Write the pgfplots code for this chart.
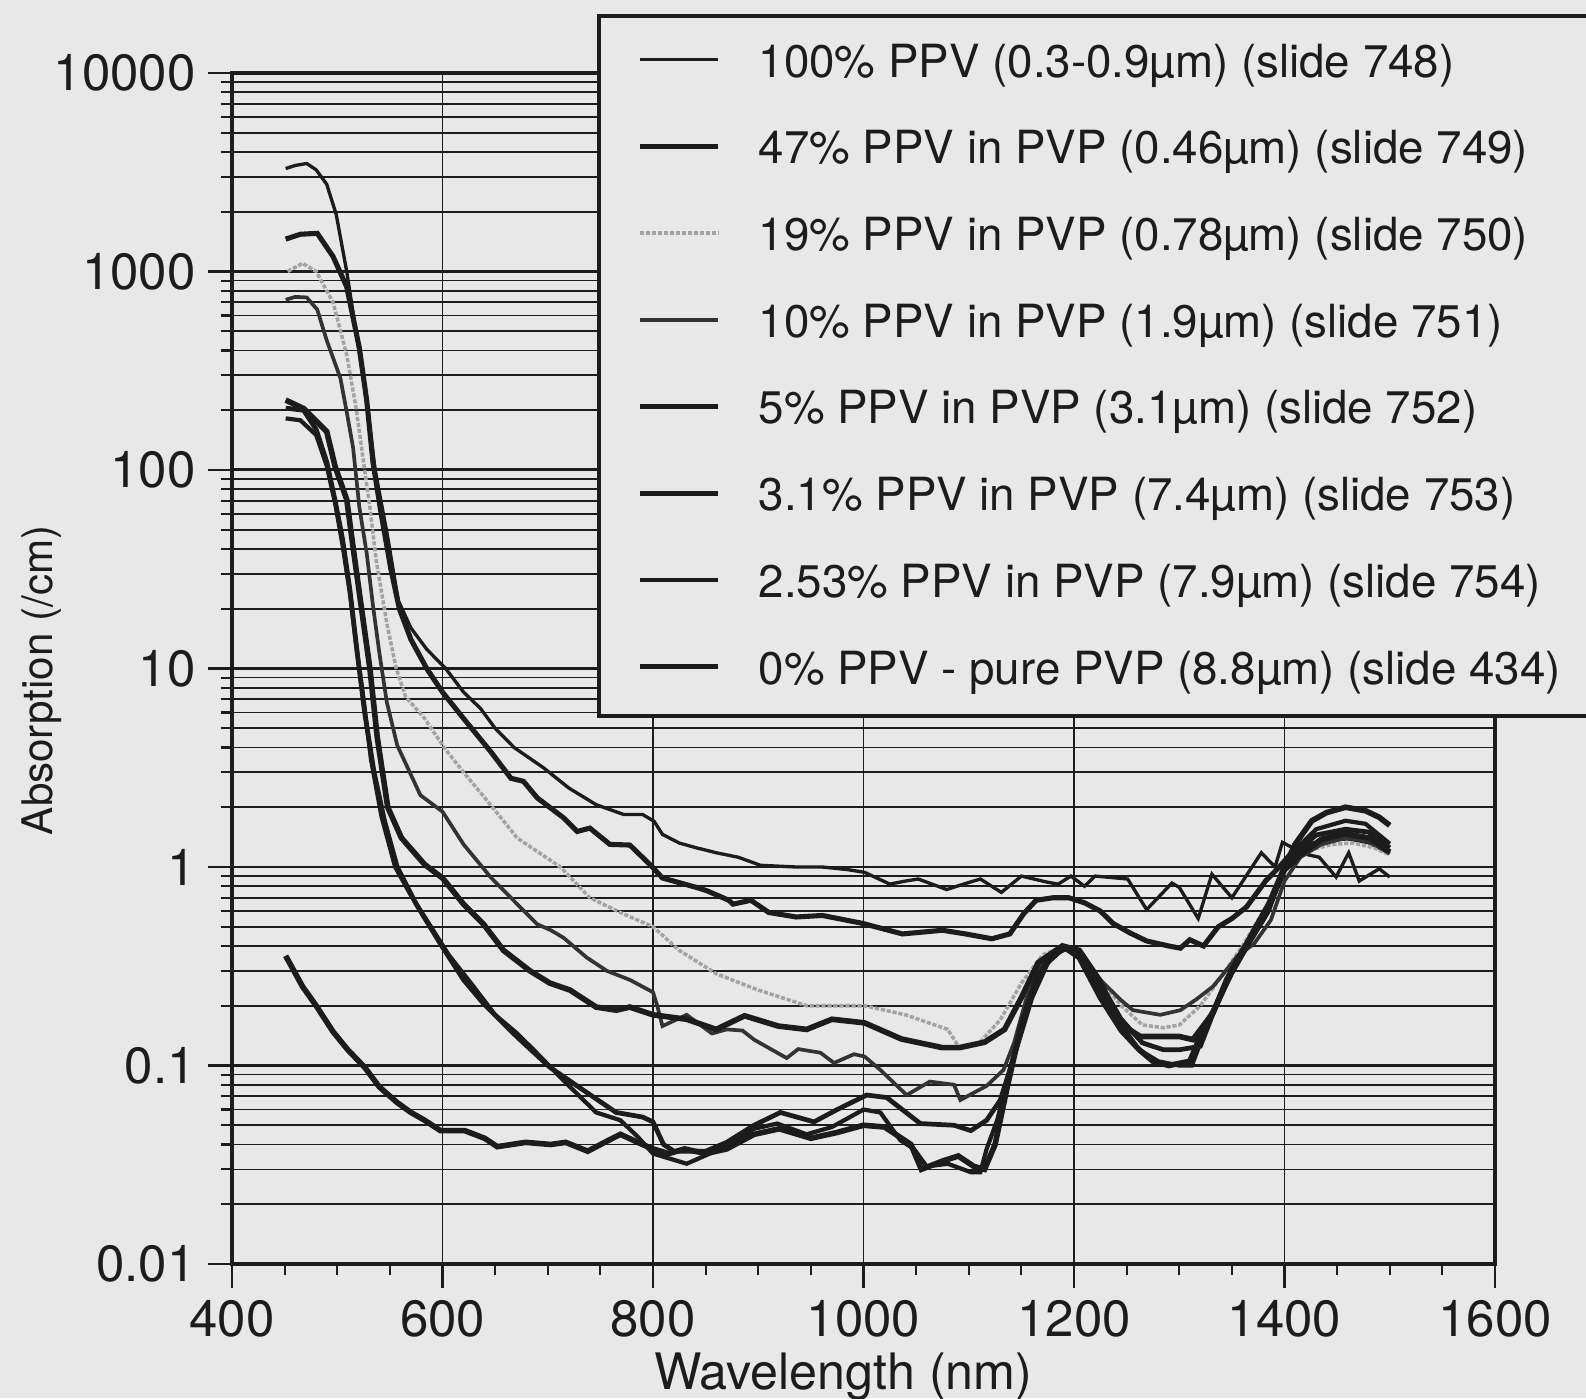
\documentclass[border=0pt]{standalone}
\usepackage{fontspec}
\setmainfont{TeX Gyre Heros}
\usepackage{pgfplots}
\pgfplotsset{compat=1.18}
\definecolor{paper}{RGB}{232,232,232}
\definecolor{ink}{RGB}{28,28,28}
\begin{document}
\begin{tikzpicture}
\fill[paper] (-2.32,-1.34) rectangle (13.54,12.64);
\begin{axis}[
  at={(0,0)}, anchor=south west,
  scale only axis, width=12.63cm, height=11.91cm,
  xmin=400, xmax=1600, ymode=log, ymin=0.01, ymax=10000,
  xtick={400,600,800,1000,1200,1400,1600},
  xticklabels={400,600,800,1000,1200,1400,1600},
  minor x tick num=3,
  ytick={0.01,0.1,1,10,100,1000,10000},
  yticklabels={0.01,0.1,1,10,100,1000,10000},
  /pgf/number format/assume math mode=true,
  tick align=outside, tick pos=left,
  major tick length=0.24cm, minor tick length=0.11cm,
  tick style={ink, line width=0.6pt},
  xmajorgrids, ymajorgrids, yminorgrids,
  major grid style={ink, line width=0.85pt},
  minor grid style={ink, line width=0.45pt},
  major x grid style={ink, line width=0.5pt},
  axis line style={ink, line width=1.2pt},
  ticklabel style={font=\fontsize{14.5}{17}\selectfont, text=ink},
  xlabel={Wavelength (nm)}, ylabel={Absorption (/cm)},
  xlabel style={font=\fontsize{14.3}{17}\selectfont, text=ink, at={(axis description cs:0.484,-0.105)}, anchor=base},
  ylabel style={font=\fontsize{12}{14}\selectfont, text=ink, at={(axis description cs:-0.151,0.49)}, anchor=center},
  legend cell align=left,
  legend style={at={(0.289,1.0495)}, anchor=north west, draw=ink, line width=1.2pt, fill=paper,
    font=\fontsize{13}{15}\selectfont, text=ink, inner xsep=0.38cm, inner ysep=0.19cm,
    row sep=0.317cm, column sep=0.38cm,
    nodes={inner sep=0pt, text height=0.42cm, text depth=0.13cm}},
  legend image code/.code={\draw[#1] (0cm,0.03cm) -- (0.78cm,0.03cm);},
]
% 100% PPV
\addplot[ink, line width=0.95pt] coordinates {(451,3300)(460,3420)(471,3500)(480,3250)(490,2750)(499,1940)(509,1000)(518,490)(528,222)(536,100)(547,49)(558,22)(570,16)(585,12.5)(603,10)(620,7.6)(636,6.3)(650,5.0)(668,4.0)(696,3.16)(720,2.5)(746,2.06)(772,1.84)(790,1.84)(801,1.7)(809,1.46)(825,1.32)(841,1.25)(860,1.18)(881,1.12)(902,1.02)(936,1.0)(961,1.0)(985,0.97)(1001,0.94)(1025,0.82)(1040,0.85)(1052,0.87)(1079,0.77)(1095,0.82)(1111,0.87)(1131,0.745)(1150,0.9)(1174,0.84)(1185,0.82)(1197,0.9)(1210,0.8)(1220,0.9)(1251,0.87)(1269,0.61)(1293,0.83)(1300,0.79)(1318,0.55)(1331,0.92)(1350,0.7)(1378,1.18)(1391,1.0)(1398,1.33)(1420,1.16)(1433,1.12)(1449,0.89)(1461,1.18)(1471,0.85)(1490,0.98)(1500,0.89)};
\addlegendentry{100\% PPV (0.3-0.9µm) (slide 748)}
% 47%
\addplot[ink, line width=1.45pt] coordinates {(451,1456)(465,1540)(481,1557)(496,1190)(509,837)(515,587)(521,412)(528,224)(534,109)(542,59)(551,31.6)(559,20)(570,14)(585,10)(600,7.6)(620,5.6)(646,3.8)(665,2.8)(677,2.7)(690,2.23)(715,1.77)(728,1.51)(740,1.57)(759,1.3)(778,1.29)(797,1.03)(809,0.88)(841,0.79)(851,0.76)(872,0.68)(876,0.65)(893,0.68)(910,0.59)(936,0.56)(961,0.57)(999,0.52)(1037,0.46)(1075,0.48)(1097,0.46)(1122,0.435)(1139,0.46)(1152,0.58)(1164,0.68)(1180,0.7)(1195,0.7)(1210,0.66)(1225,0.6)(1237,0.52)(1253,0.466)(1269,0.424)(1290,0.40)(1301,0.39)(1310,0.43)(1323,0.40)(1337,0.5)(1350,0.55)(1364,0.63)(1382,0.85)(1395,1.0)(1405,1.15)(1425,1.3)(1445,1.38)(1460,1.4)(1480,1.34)(1500,1.18)};
\addlegendentry{47\% PPV in PVP (0.46µm) (slide 749)}
% 19%
\addplot[black!36, line width=1.0pt, dash pattern=on 1.2pt off 0.5pt] coordinates {(453,1000)(467,1100)(480,1000)(496,700)(509,380)(518,204)(525,109)(531,65)(537,35)(547,17)(556,10)(565,7.2)(583,5.6)(602,3.97)(620,3.0)(643,2.14)(671,1.40)(712,1.0)(740,0.70)(772,0.58)(800,0.50)(825,0.38)(860,0.29)(900,0.24)(946,0.20)(1001,0.20)(1040,0.18)(1080,0.152)(1091,0.123)(1110,0.13)(1130,0.17)(1150,0.26)(1170,0.36)(1190,0.40)(1205,0.38)(1225,0.27)(1245,0.2)(1265,0.16)(1285,0.155)(1300,0.16)(1320,0.2)(1340,0.28)(1360,0.4)(1380,0.6)(1400,0.95)(1420,1.2)(1445,1.3)(1465,1.32)(1485,1.25)(1500,1.15)};
\addlegendentry{19\% PPV in PVP (0.78µm) (slide 750)}
% 10%
\addplot[black!80, line width=1.05pt] coordinates {(451,720)(460,745)(471,740)(481,643)(490,450)(503,290)(509,196)(515,130)(521,65)(528,38)(534,20.6)(540,12)(547,6.8)(557,4.1)(579,2.3)(600,1.9)(620,1.3)(646,0.885)(671,0.65)(690,0.515)(703,0.48)(715,0.44)(737,0.35)(756,0.30)(778,0.27)(800,0.234)(804,0.2)(809,0.158)(832,0.18)(856,0.145)(870,0.152)(885,0.15)(896,0.135)(927,0.109)(938,0.121)(959,0.116)(972,0.103)(991,0.114)(1001,0.111)(1016,0.095)(1041,0.071)(1063,0.083)(1086,0.08)(1092,0.067)(1117,0.079)(1133,0.095)(1143,0.13)(1155,0.22)(1170,0.33)(1190,0.39)(1205,0.37)(1225,0.27)(1244,0.215)(1256,0.19)(1282,0.18)(1301,0.19)(1316,0.215)(1332,0.25)(1342,0.29)(1355,0.355)(1371,0.41)(1387,0.54)(1400,0.85)(1415,1.12)(1435,1.3)(1458,1.4)(1480,1.35)(1500,1.17)};
\addlegendentry{10\% PPV in PVP (1.9µm) (slide 751)}
% 5%
\addplot[ink, line width=1.6pt] coordinates {(451,225)(468,204)(490,156)(498,104)(509,71)(515,41)(522,22)(531,10)(538,4.5)(548,2.0)(561,1.4)(583,1.03)(600,0.88)(620,0.65)(639,0.515)(658,0.38)(683,0.30)(702,0.26)(721,0.24)(746,0.197)(765,0.19)(778,0.197)(800,0.18)(832,0.171)(860,0.152)(887,0.178)(919,0.158)(946,0.152)(970,0.171)(1001,0.164)(1036,0.136)(1075,0.123)(1091,0.123)(1115,0.131)(1134,0.152)(1150,0.22)(1166,0.33)(1189,0.40)(1205,0.38)(1224,0.27)(1237,0.19)(1253,0.151)(1263,0.14)(1300,0.14)(1313,0.135)(1332,0.184)(1345,0.27)(1360,0.38)(1380,0.55)(1400,0.97)(1415,1.15)(1435,1.38)(1458,1.47)(1480,1.4)(1500,1.19)};
\addlegendentry{5\% PPV in PVP (3.1µm) (slide 752)}
% 3.1%
\addplot[ink, line width=1.35pt] coordinates {(451,205)(468,200)(480,160)(490,110)(498,70)(505,45)(512,25)(519,12)(526,6)(535,3)(545,1.7)(557,1.0)(575,0.65)(598,0.41)(620,0.27)(639,0.205)(671,0.139)(702,0.098)(734,0.075)(765,0.058)(790,0.055)(800,0.052)(810,0.04)(820,0.037)(850,0.037)(870,0.041)(896,0.05)(921,0.058)(953,0.052)(975,0.06)(1003,0.071)(1022,0.069)(1054,0.051)(1086,0.05)(1102,0.047)(1117,0.053)(1130,0.067)(1145,0.12)(1160,0.22)(1175,0.33)(1190,0.39)(1205,0.37)(1225,0.26)(1245,0.17)(1265,0.13)(1285,0.12)(1300,0.12)(1320,0.125)(1335,0.2)(1350,0.3)(1365,0.42)(1385,0.62)(1400,0.98)(1412,1.2)(1430,1.45)(1458,1.55)(1480,1.5)(1500,1.25)};
\addlegendentry{3.1\% PPV in PVP (7.4µm) (slide 753)}
% 2.53%
\addplot[ink, line width=1.2pt] coordinates {(451,182)(465,178)(480,150)(490,105)(498,68)(505,42)(512,24)(518,13)(525,7)(532,3.5)(542,1.8)(555,1.0)(570,0.72)(589,0.5)(606,0.36)(627,0.26)(650,0.18)(671,0.145)(690,0.115)(715,0.084)(746,0.058)(769,0.053)(785,0.044)(800,0.036)(832,0.032)(864,0.038)(896,0.048)(918,0.051)(946,0.045)(970,0.049)(1000,0.06)(1016,0.058)(1035,0.042)(1048,0.038)(1060,0.031)(1080,0.032)(1102,0.029)(1111,0.029)(1117,0.038)(1127,0.053)(1140,0.1)(1155,0.2)(1172,0.32)(1190,0.39)(1205,0.36)(1225,0.24)(1245,0.16)(1262,0.12)(1280,0.105)(1300,0.10)(1312,0.1)(1320,0.13)(1335,0.2)(1350,0.29)(1365,0.4)(1385,0.6)(1400,1.0)(1412,1.25)(1430,1.55)(1458,1.71)(1477,1.65)(1500,1.31)};
\addlegendentry{2.53\% PPV in PVP (7.9µm) (slide 754)}
% 0%
\addplot[ink, line width=1.6pt] coordinates {(451,0.357)(467,0.25)(480,0.2)(496,0.148)(510,0.12)(526,0.098)(540,0.078)(557,0.065)(570,0.058)(583,0.053)(598,0.047)(621,0.047)(640,0.043)(652,0.039)(679,0.041)(703,0.04)(717,0.041)(738,0.037)(754,0.041)(769,0.045)(790,0.04)(800,0.038)(815,0.036)(830,0.038)(850,0.036)(870,0.038)(896,0.045)(920,0.048)(950,0.043)(975,0.046)(1000,0.05)(1020,0.049)(1045,0.04)(1055,0.03)(1075,0.033)(1090,0.035)(1105,0.031)(1115,0.03)(1125,0.04)(1137,0.08)(1150,0.16)(1165,0.28)(1180,0.36)(1192,0.39)(1205,0.35)(1225,0.22)(1245,0.15)(1262,0.12)(1275,0.105)(1290,0.10)(1310,0.105)(1320,0.14)(1335,0.2)(1350,0.3)(1365,0.42)(1385,0.65)(1400,1.0)(1410,1.3)(1426,1.71)(1440,1.88)(1458,2.0)(1477,1.92)(1490,1.78)(1500,1.62)};
\addlegendentry{0\% PPV - pure PVP (8.8µm) (slide 434)}
\end{axis}
\pgfresetboundingbox
\path (-2.32,-1.34) rectangle (13.54,12.64);
\end{tikzpicture}
\end{document}
